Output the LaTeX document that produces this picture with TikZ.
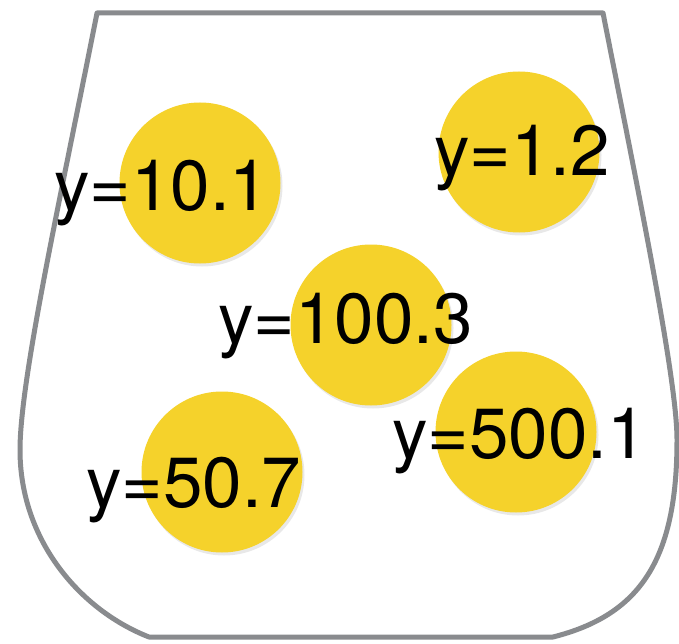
\documentclass[tikz,border=0pt]{standalone}
\usepackage{fontspec}
\setmainfont{TeX Gyre Heros}
\usetikzlibrary{shadows}
\definecolor{cupgray}{HTML}{898B8E}
\definecolor{ballyellow}{HTML}{F5D22B}
\tikzset{
  ball/.style={circle, fill=ballyellow, draw=none, minimum size=161pt, inner sep=0pt,
    drop shadow={opacity=0.18, shadow xshift=2pt, shadow yshift=-3pt}},
  val/.style={anchor=base west, inner sep=0pt, font=\fontsize{71}{80}\selectfont, text=black},
  cup/.style={draw=cupgray, line width=5pt, line join=round}
}
\begin{document}
\begin{tikzpicture}[x=1pt,y=-1pt]
\useasboundingbox[fill=white] (0,0) rectangle (679,644);
% cup outline
\draw[cup] (97,13) -- (603,13)
  .. controls (640,200) and (677,380) .. (677,440)
  .. controls (677,560) and (640,615) .. (553,637)
  -- (149,637)
  .. controls (80,610) and (20,540) .. (20,450)
  .. controls (20,380) and (60,200) .. (97,13) -- cycle;
% balls
\node[ball] (b1) at (200,183) {};
\node[ball] (b2) at (519,152) {};
\node[ball] (b3) at (371,325) {};
\node[ball] (b4) at (222,472) {};
\node[ball] (b5) at (516,432) {};
% labels
\node[val] (t1) at (54,211) {y=10.1};
\node[val] (t2) at (434,176) {y=1.2};
\node[val] (t3) at (218,343) {y=100.3};
\node[val] (t4) at (86,507) {y=50.7};
\node[val] (t5) at (392,458) {y=500.1};
\end{tikzpicture}
\end{document}
